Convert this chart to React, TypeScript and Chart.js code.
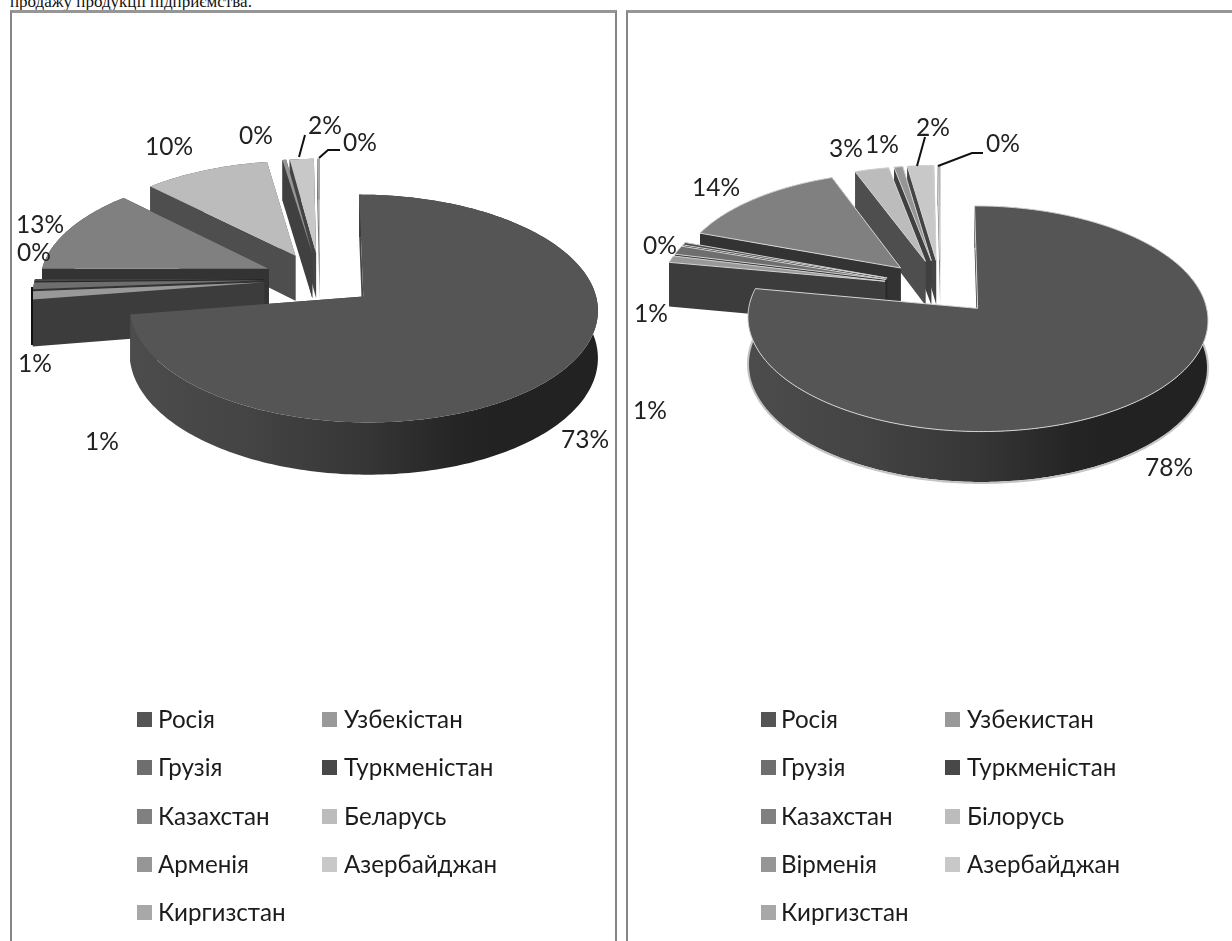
import React, { useEffect, useRef } from "react";
import { Chart, registerables } from "chart.js";

Chart.register(...registerables);

const categoriesLeft = ["Росія", "Узбекістан", "Грузія", "Туркменістан", "Казахстан", "Беларусь", "Арменія", "Азербайджан", "Киргизстан"];
const categoriesRight = ["Росія", "Узбекистан", "Грузія", "Туркменістан", "Казахстан", "Білорусь", "Вірменія", "Азербайджан", "Киргизстан"];
const valuesLeft = [72.5, 1.2, 1.0, 0.3, 12.6, 10.0, 0.3, 1.9, 0.2];
const valuesRight = [77.8, 1.0, 1.3, 0.4, 13.7, 2.7, 0.7, 2.1, 0.2];

const topColors = ["#555555", "#999999", "#6e6e6e", "#484848", "#808080", "#bcbcbc", "#969696", "#c8c8c8", "#a8a8a8"];
const wallColors = ["#454545", "#3c3c3c", "#333333", "#262626", "#333333", "#4e4e4e", "#404040", "#444444", "#777777"];

type Pt = [number, number];
type Cfg = {
  b: number; q: number; depth: number; edge: string | null; radius: number; offset: number;
  padLeft: number; padBottom: number; labelPos: Pt[]; leaders: Pt[][]; shadow: string | null;
};

const leftCfg: Cfg = {
  b: 0.476, q: 0.00045, depth: 46, edge: null, radius: 229, offset: 56, padLeft: 20, padBottom: 383, shadow: null,
  labelPos: [[585, 440], [102, 442], [35, 364], [34, 253], [40, 225], [169, 147], [256, 136], [325, 126], [360, 143]],
  leaders: [[[32, 287], [32, 345]], [[305, 135], [299, 157]], [[340, 150], [328, 150], [319, 158]]],
};
const rightCfg: Cfg = {
  b: 0.48, q: 0.0004, depth: 45, edge: "#d4d4d4", radius: 225, offset: 57, padLeft: 29, padBottom: 367, shadow: "#c4c4c4",
  labelPos: [[549, 468], [30, 411], [31, 314], [40, 246], [96, 188], [226, 149], [262, 145], [313, 128], [383, 144]],
  leaders: [[[305, 137], [297, 166]], [[363, 153], [352, 153], [318, 166]]],
};

const FONT = "Lato, Carlito, 'Open Sans', sans-serif";

function tiltedPlugin(cfg: Cfg) {
  return {
    id: "tilted",
    beforeDatasetDraw(chart: any, args: any) {
      const ctx: CanvasRenderingContext2D = chart.ctx;
      const arcs = args.meta.data as any[];
      const project = (el: any, angle: number, r: number, h: number): Pt => {
        const mid = (el.startAngle + el.endAngle) / 2;
        const off = el.options.offset;
        const dx = Math.cos(mid) * off + Math.cos(angle) * r;
        const dy = Math.sin(mid) * off + Math.sin(angle) * r;
        const w = 1 - cfg.q * dy;
        return [el.x + dx / w, el.y + (cfg.b * dy + h) / w];
      };
      const path = (pts: Pt[]) => {
        ctx.beginPath();
        pts.forEach((p, i) => (i ? ctx.lineTo(p[0], p[1]) : ctx.moveTo(p[0], p[1])));
        ctx.closePath();
      };
      const arcPts = (el: any, h: number): Pt[] => {
        const n = Math.max(2, Math.ceil(((el.endAngle - el.startAngle) * 180) / Math.PI));
        const out: Pt[] = [];
        for (let i = 0; i <= n; i++) {
          out.push(project(el, el.startAngle + ((el.endAngle - el.startAngle) * i) / n, el.outerRadius, h));
        }
        return out;
      };
      for (let i = arcs.length - 1; i >= 0; i--) {
        const el = arcs[i];
        const apexTop = project(el, el.startAngle, 0, 0);
        const apexBot = project(el, el.startAngle, 0, cfg.depth);
        const top = arcPts(el, 0);
        const bot = arcPts(el, cfg.depth);
        ctx.fillStyle = wallColors[i];
        path([apexTop, top[0], bot[0], apexBot]);
        ctx.fill();
        path([apexTop, top[top.length - 1], bot[bot.length - 1], apexBot]);
        ctx.fill();
        let wall: string | CanvasGradient = wallColors[i];
        if (i === 0) {
          const xs = top.map((p) => p[0]);
          const x0 = Math.min(...xs);
          const x1 = Math.max(...xs);
          const g = ctx.createLinearGradient(x0, 0, x1, 0);
          g.addColorStop(0, "#4c4c4c");
          g.addColorStop(0.25, "#444444");
          g.addColorStop(0.5, "#363636");
          g.addColorStop(0.7, "#252525");
          g.addColorStop(0.78, "#222222");
          g.addColorStop(1, "#222222");
          wall = g;
        }
        ctx.fillStyle = wall;
        path([...top, ...bot.slice().reverse()]);
        ctx.fill();
        if (cfg.shadow && i === 0) {
          ctx.strokeStyle = cfg.shadow;
          ctx.lineWidth = 2;
          ctx.beginPath();
          bot.forEach((p, k) => (k ? ctx.lineTo(p[0], p[1] + 1) : ctx.moveTo(p[0], p[1] + 1)));
          ctx.stroke();
        }
        ctx.fillStyle = topColors[i];
        path([apexTop, ...top]);
        ctx.fill();
        if (cfg.edge) {
          ctx.strokeStyle = cfg.edge;
          ctx.lineWidth = 1;
          ctx.stroke();
        }
      }
      return false;
    },
    afterDatasetsDraw(chart: any) {
      const ctx: CanvasRenderingContext2D = chart.ctx;
      const values = chart.data.datasets[0].data as number[];
      ctx.save();
      ctx.strokeStyle = "#111111";
      ctx.lineWidth = 2;
      cfg.leaders.forEach((line) => {
        ctx.beginPath();
        line.forEach((p, i) => (i ? ctx.lineTo(p[0], p[1]) : ctx.moveTo(p[0], p[1])));
        ctx.stroke();
      });
      ctx.fillStyle = "#222222";
      ctx.font = `24.5px ${FONT}`;
      ctx.textAlign = "center";
      ctx.textBaseline = "middle";
      values.forEach((v, i) => {
        const [x, y] = cfg.labelPos[i];
        ctx.fillText(`${Math.round(v)}%`, x, y);
      });
      ctx.restore();
    },
  };
}

function Pie({ labels, values, cfg, left, width }: { labels: string[]; values: number[]; cfg: Cfg; left: number; width: number }) {
  const ref = useRef<HTMLCanvasElement>(null);
  useEffect(() => {
    const chart = new Chart(ref.current!, {
      type: "pie",
      data: { labels, datasets: [{ data: values, backgroundColor: topColors, offset: cfg.offset, radius: cfg.radius, borderWidth: 0 } as any] },
      options: {
        animation: false,
        responsive: false,
        layout: { padding: { left: cfg.padLeft, right: 0, top: 0, bottom: cfg.padBottom } },
        plugins: { legend: { display: false }, tooltip: { enabled: false } },
      },
      plugins: [tiltedPlugin(cfg) as any],
    });
    return () => chart.destroy();
  }, []);
  return <canvas ref={ref} width={width} height={941} style={{ position: "absolute", left, top: 0, display: "block" }} />;
}

function Legend({ labels, xs, textXs }: { labels: string[]; xs: number[]; textXs: number[] }) {
  const rows = [719.5, 768, 816.5, 864.5, 912.5];
  return (
    <>
      {labels.map((t, i) => {
        const col = i % 2;
        const y = rows[Math.floor(i / 2)];
        return (
          <React.Fragment key={i}>
            <div style={{ position: "absolute", left: xs[col], top: y - 8, width: 15, height: 15, background: topColors[i] }} />
            <div style={{ position: "absolute", left: textXs[col], top: y - 16, height: 32, lineHeight: "32px", font: `24.2px ${FONT}`, color: "#1c1c1c", whiteSpace: "nowrap" }}>{t}</div>
          </React.Fragment>
        );
      })}
    </>
  );
}

const panelLine = "2px solid #868686";
const panelTop = "3px solid #969696";

export default function App() {
  return (
    <div style={{ position: "absolute", left: 0, top: 0, width: 1232, height: 941, overflow: "hidden", background: "#fff" }}>
      <div style={{ position: "absolute", left: 10, top: -8, font: "17px 'Liberation Serif', serif", color: "#111", whiteSpace: "nowrap" }}>продажу продукції підприємства.</div>
      <div style={{ position: "absolute", left: 10, top: 10, width: 603, height: 940, borderLeft: panelLine, borderTop: panelTop, borderRight: panelLine }} />
      <div style={{ position: "absolute", left: 626, top: 10, width: 620, height: 940, borderLeft: panelLine, borderTop: panelTop }} />
      <Pie labels={categoriesLeft} values={valuesLeft} cfg={leftCfg} left={0} width={620} />
      <Pie labels={categoriesRight} values={valuesRight} cfg={rightCfg} left={620} width={612} />
      <Legend labels={categoriesLeft} xs={[137, 322]} textXs={[158, 344]} />
      <Legend labels={categoriesRight} xs={[761, 945]} textXs={[781, 967]} />
    </div>
  );
}
